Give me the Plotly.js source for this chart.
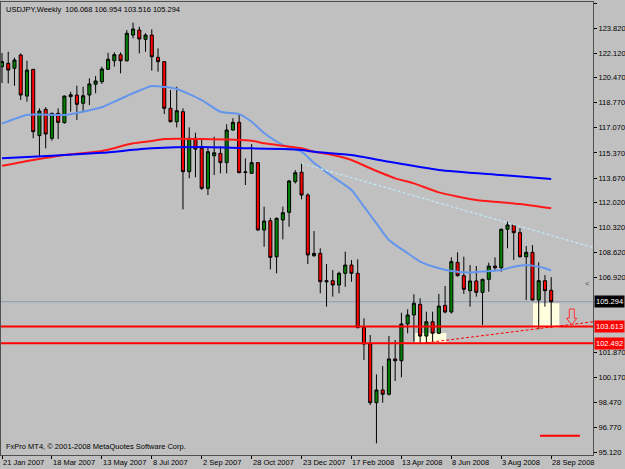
<!DOCTYPE html>
<html><head><meta charset="utf-8">
<script src="https://cdn.plot.ly/plotly-3.0.1.min.js"></script>
<style>html,body{margin:0;padding:0;background:#c0c0c0;}#chart{width:625px;height:469px;}</style>
</head><body><div id="chart"></div>
<script>
// Weekly bars (week start dates)
const weeks = [
 "21 Jan 2007","28 Jan 2007","4 Feb 2007","11 Feb 2007","18 Feb 2007","25 Feb 2007","4 Mar 2007","11 Mar 2007","18 Mar 2007","25 Mar 2007",
 "1 Apr 2007","8 Apr 2007","15 Apr 2007","22 Apr 2007","29 Apr 2007","6 May 2007","13 May 2007","20 May 2007","27 May 2007","3 Jun 2007",
 "10 Jun 2007","17 Jun 2007","24 Jun 2007","1 Jul 2007","8 Jul 2007","15 Jul 2007","22 Jul 2007","29 Jul 2007","5 Aug 2007","12 Aug 2007",
 "19 Aug 2007","26 Aug 2007","2 Sep 2007","9 Sep 2007","16 Sep 2007","23 Sep 2007","30 Sep 2007","7 Oct 2007","14 Oct 2007","21 Oct 2007",
 "28 Oct 2007","4 Nov 2007","11 Nov 2007","18 Nov 2007","25 Nov 2007","2 Dec 2007","9 Dec 2007","16 Dec 2007","23 Dec 2007","30 Dec 2007",
 "6 Jan 2008","13 Jan 2008","20 Jan 2008","27 Jan 2008","3 Feb 2008","10 Feb 2008","17 Feb 2008","24 Feb 2008","2 Mar 2008","9 Mar 2008",
 "16 Mar 2008","23 Mar 2008","30 Mar 2008","6 Apr 2008","13 Apr 2008","20 Apr 2008","27 Apr 2008","4 May 2008","11 May 2008","18 May 2008",
 "25 May 2008","1 Jun 2008","8 Jun 2008","15 Jun 2008","22 Jun 2008","29 Jun 2008","6 Jul 2008","13 Jul 2008","20 Jul 2008","27 Jul 2008",
 "3 Aug 2008","10 Aug 2008","17 Aug 2008","24 Aug 2008","31 Aug 2008","7 Sep 2008","14 Sep 2008","21 Sep 2008","28 Sep 2008"
];
const openP = [121.21,121.44,121.10,122.00,119.22,121.03,116.54,118.32,116.36,118.05,
 117.42,119.18,119.29,118.73,119.29,120.02,120.19,121.03,121.61,122.02,
 121.61,123.35,123.69,123.06,123.35,121.84,121.55,118.39,117.48,118.16,
 114.10,116.36,115.68,112.97,115.18,115.34,114.71,116.92,117.44,114.05,
 113.99,114.71,110.15,110.78,108.34,110.83,111.35,113.42,114.06,112.52,
 108.41,108.57,106.72,106.72,106.43,107.22,107.78,107.22,103.54,102.43,
 98.46,99.32,99.03,101.42,101.30,103.79,104.40,105.12,102.97,103.94,
 103.16,105.05,104.60,107.96,107.06,106.04,106.70,105.93,106.81,107.71,
 107.60,110.20,110.49,109.97,108.34,108.64,105.41,106.72,106.068];
const highP = [122.13,122.22,121.82,122.11,121.61,121.05,118.39,118.46,118.09,118.39,
 119.25,119.51,119.92,119.85,120.42,120.58,121.21,122.15,122.18,122.18,
 123.69,124.19,123.92,123.47,123.74,122.45,121.58,119.63,119.85,118.39,
 117.10,116.74,116.36,115.79,116.47,115.84,117.31,117.72,118.00,115.00,
 115.97,114.75,111.73,110.98,111.00,111.73,113.54,114.20,114.67,112.64,
 110.08,108.91,107.85,107.44,107.33,108.68,108.12,108.17,104.17,103.04,
 100.38,100.94,102.97,102.70,104.55,104.78,105.80,105.53,104.62,104.62,
 105.82,106.36,108.30,108.64,108.34,107.78,107.71,106.85,107.94,108.30,
 110.25,110.71,110.55,110.27,109.07,109.13,107.96,107.10,106.954];
const lowP = [120.10,120.08,119.92,118.95,118.84,116.36,115.11,115.68,116.20,116.31,
 117.35,118.16,117.60,118.16,118.61,119.41,120.04,121.00,121.21,120.76,
 121.55,123.13,122.11,122.22,120.94,120.87,118.00,117.45,117.10,111.55,
 113.65,113.72,112.86,112.52,113.87,113.99,113.99,116.88,114.00,113.20,
 113.95,110.10,109.02,107.49,107.22,109.52,110.37,113.30,112.23,107.85,
 108.34,105.87,104.96,105.64,105.87,106.31,106.65,103.50,101.35,98.30,
 95.71,98.46,98.95,99.93,100.18,103.16,102.59,102.52,102.52,102.59,
 103.10,104.51,104.50,107.00,105.82,104.96,105.64,103.72,105.97,107.40,
 107.33,108.91,108.12,108.30,105.41,105.38,103.43,104.96,103.516];
const closeP = [121.55,120.98,121.66,119.29,120.98,116.81,118.21,116.65,118.05,117.44,
 119.22,119.31,118.66,119.24,120.04,120.24,121.05,121.71,122.02,121.61,
 123.47,123.76,123.08,123.35,121.88,121.55,118.39,117.48,118.23,114.10,
 116.36,115.63,112.97,115.45,115.38,114.71,116.92,117.44,114.03,114.08,
 114.71,110.15,110.76,108.30,110.94,111.32,113.47,114.03,112.52,108.46,
 108.57,106.65,106.65,106.43,107.22,107.78,107.22,103.54,102.43,98.46,
 99.32,99.03,101.42,101.30,103.79,104.40,105.19,102.97,103.94,103.16,
 105.00,104.60,108.01,107.06,106.14,106.70,105.93,106.81,107.71,107.60,
 110.20,110.49,109.97,108.34,108.64,105.41,106.72,106.04,105.294];

// Moving averages (read at sampled weeks)
const maFastWeek = [0,4,10,13,16,18,21,24,25,28,32,35,38,40,42,45,48,50,53,56,58,60,62,65,67,70,72,75,77,80,82,84,85,87,88];
const maFastVal  = [117.35,117.94,117.94,118.16,118.46,118.84,119.41,119.90,119.88,119.70,118.95,118.16,118.00,117.48,116.72,115.91,115.45,114.69,113.76,112.86,111.73,110.60,109.48,108.58,108.01,107.56,107.38,107.27,107.34,107.45,107.67,107.79,107.74,107.56,107.40];
const maMidWeek = [0,5,10,16,21,24,26,32,40,42,48,50,53,56,59,63,66,70,76,83,88];
const maMidVal  = [114.50,114.89,115.23,115.50,116.02,116.18,116.31,116.31,116.20,116.02,115.68,115.45,115.23,114.89,114.33,113.65,113.31,112.70,112.18,111.91,111.62];
const maSlowWeek = [0,8,16,24,32,40,45,48,50,56,62,70,80,88];
const maSlowVal  = [115.01,115.18,115.38,115.68,115.77,115.68,115.63,115.57,115.45,115.23,114.77,114.21,113.87,113.60];

const dateTickWeek = [0,8,16,24,32,40,48,56,64,72,80,88];
const yTickVals = [125.52,123.82,122.12,120.47,118.77,117.07,115.37,113.67,112.02,110.32,108.62,106.92,101.87,100.17,98.47,96.77,95.12];
const yTickText = ["125.520","123.820","122.120","120.470","118.770","117.070","115.370","113.670","112.020","110.320","108.620","106.920","101.870","100.170","98.470","96.770","95.120"];

const bidPrice = 105.294, level1 = 103.613, level2 = 102.492;

const idx = weeks.map((w, i) => i);
const FONT = {family: "Liberation Sans, Arial, sans-serif", size: 7.5, color: "#000"};

const traces = [
  {type: "candlestick", x: idx, open: openP, high: highP, low: lowP, close: closeP,
   increasing: {fillcolor: "#008000", line: {color: "#000", width: 1}},
   decreasing: {fillcolor: "#ff0000", line: {color: "#000", width: 1}},
   whiskerwidth: 0, hoverinfo: "skip", showlegend: false},
  {type: "scatter", mode: "lines", x: maFastWeek, y: maFastVal, line: {color: "#6495ed", width: 2, shape: "spline", smoothing: 0.6}, hoverinfo: "skip"},
  {type: "scatter", mode: "lines", x: maMidWeek, y: maMidVal, line: {color: "#ff1a1a", width: 2, shape: "spline", smoothing: 0.6}, hoverinfo: "skip"},
  {type: "scatter", mode: "lines", x: maSlowWeek, y: maSlowVal, line: {color: "#0000ff", width: 2, shape: "spline", smoothing: 0.6}, hoverinfo: "skip"}
];

const annotations = dateTickWeek.map(k => ({
  xref: "x", yref: "paper", x: k, y: 0, xanchor: "left", yanchor: "top",
  xshift: -1, yshift: -1, text: weeks[k], showarrow: false, font: FONT
}));
annotations.push(
  {xref: "paper", yref: "paper", x: 0, y: 1, xanchor: "left", yanchor: "top", xshift: 3, yshift: -1,
   text: "USDJPY,Weekly  106.068 106.954 103.516 105.294", showarrow: false, font: FONT},
  {xref: "paper", yref: "paper", x: 0, y: 0, xanchor: "left", yanchor: "bottom", xshift: 3, yshift: 2,
   text: "FxPro MT4, © 2001-2008 MetaQuotes Software Corp.", showarrow: false, font: FONT},
  {xref: "paper", yref: "y", x: 1, y: bidPrice, xanchor: "left", xshift: 1, text: "105.294", showarrow: false,
   bgcolor: "#000", borderpad: 1, font: {family: FONT.family, size: 7.5, color: "#fff"}},
  {xref: "paper", yref: "y", x: 1, y: level1, xanchor: "left", xshift: 1, text: "103.613", showarrow: false,
   bgcolor: "#ff0000", borderpad: 1, font: {family: FONT.family, size: 7.5, color: "#fff"}},
  {xref: "paper", yref: "y", x: 1, y: level2, xanchor: "left", xshift: 1, text: "102.492", showarrow: false,
   bgcolor: "#ff0000", borderpad: 1, font: {family: FONT.family, size: 7.5, color: "#fff"}},
  {xref: "paper", yref: "y", x: 1, y: 106.54, xanchor: "right", xshift: -1, text: "<", showarrow: false,
   font: {family: FONT.family, size: 8, color: "#555"}}
);

const shapes = [
  {type: "rect", xref: "x", yref: "y", x0: 66.2, x1: 71.2, y0: 102.49, y1: 103.18, fillcolor: "#ffffe0", line: {width: 0}, layer: "below"},
  {type: "rect", xref: "x", yref: "y", x0: 85.1, x1: 89.3, y0: 103.54, y1: 105.19, fillcolor: "#ffffe0", line: {width: 0}, layer: "below"},
  {type: "line", xref: "paper", yref: "y", x0: 0, x1: 1, y0: bidPrice, y1: bidPrice, line: {color: "#8e9ab3", width: 1}, layer: "below"},
  {type: "line", xref: "paper", yref: "y", x0: 0, x1: 1, y0: level1, y1: level1, line: {color: "#ff0000", width: 2}},
  {type: "line", xref: "paper", yref: "y", x0: 0, x1: 1, y0: level2, y1: level2, line: {color: "#ff0000", width: 2}},
  {type: "line", xref: "x", yref: "y", x0: 48, y0: 114.67, x1: 94.7, y1: 108.97, line: {color: "#bfeaf8", width: 1.2, dash: "3px,2px"}},
  {type: "line", xref: "x", yref: "y", x0: 68, y0: 102.52, x1: 94.7, y1: 103.94, line: {color: "#ff0000", width: 1, dash: "3px,2px"}},
  {type: "line", xref: "x", yref: "y", x0: 86.2, x1: 92.6, y0: 96.22, y1: 96.22, line: {color: "#ff0000", width: 2}},
  {type: "path", xref: "x", yref: "y",
   path: "M 90.9 104.80 L 91.7 104.80 L 91.7 104.18 L 92.1 104.18 L 91.3 103.72 L 90.45 104.18 L 90.9 104.18 Z",
   line: {color: "#ff3030", width: 1}, fillcolor: "rgba(0,0,0,0)"}
];

const layout = {
  width: 625, height: 469,
  paper_bgcolor: "#c0c0c0", plot_bgcolor: "#c0c0c0",
  margin: {l: 1, r: 32, t: 2, b: 14},
  showlegend: false, font: FONT,
  xaxis: {type: "linear", range: [-0.16, 94.7], showgrid: false, zeroline: false,
          showline: true, mirror: true, linecolor: "#505050", linewidth: 1,
          ticks: "outside", ticklen: 3, tickcolor: "#000", tickvals: dateTickWeek,
          showticklabels: false, rangeslider: {visible: false}, fixedrange: true},
  yaxis: {range: [94.918, 125.588], side: "right", showgrid: false, zeroline: false,
          showline: true, mirror: true, linecolor: "#505050", linewidth: 1,
          ticks: "outside", ticklen: 3, tickcolor: "#000",
          tickvals: yTickVals, ticktext: yTickText, tickfont: FONT, fixedrange: true},
  annotations: annotations, shapes: shapes
};

Plotly.newPlot("chart", traces, layout, {displayModeBar: false, staticPlot: true});
</script>
</body></html>
